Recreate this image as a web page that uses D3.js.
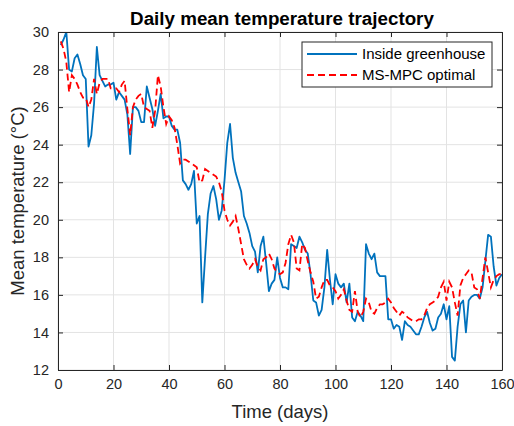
<!DOCTYPE html>
<html>
<head>
<meta charset="utf-8">
<script src="https://cdn.jsdelivr.net/npm/d3@7"></script>
<style>
  html, body { margin: 0; padding: 0; background: #fff; }
  svg { display: block; font-family: "Liberation Sans", Arial, Helvetica, sans-serif; }
</style>
</head>
<body>
<svg id="chart" width="514" height="426"></svg>
<script>
// Daily mean temperature (°C), days 1..160
const days = d3.range(1, 161);

const insideGreenhouse = [
  29.3, 29.6, 30.0, 28.0, 27.9, 28.6, 28.8, 28.3, 27.7, 27.5,
  23.9, 24.5, 26.2, 29.2, 27.7, 27.4, 27.1, 27.2, 27.2, 27.3,
  26.4, 26.8, 26.6, 26.4, 25.6, 23.5, 26.0, 26.0, 25.8, 25.2,
  25.2, 27.1, 26.5, 25.9, 25.0, 25.8, 26.7, 25.4, 25.5, 25.5,
  25.0, 24.8, 24.8, 24.1, 22.1, 21.9, 21.6, 21.9, 22.6, 19.8,
  20.2, 15.6, 18.0, 20.3, 21.4, 21.8, 21.1, 20.0, 20.5, 22.1,
  24.1, 25.1, 23.3, 22.5, 22.0, 21.5, 20.2, 19.8, 19.3, 18.6,
  18.3, 17.2, 18.6, 19.1, 17.7, 16.2, 16.6, 16.8, 18.0, 16.9,
  16.4, 16.4, 16.3, 18.7, 18.6, 18.5, 19.1, 18.8, 18.4, 18.2,
  17.1, 15.7, 15.6, 14.9, 15.2, 16.4, 18.4, 16.8, 15.5, 17.1,
  16.6, 16.4, 16.6, 15.6, 16.6, 14.8, 14.6, 15.1, 14.9, 14.6,
  18.7, 18.2, 17.9, 18.2, 17.2, 17.0, 17.0, 17.0, 14.7, 14.7,
  14.2, 14.4, 14.3, 13.6, 14.6, 14.4, 14.3, 14.1, 13.9, 13.9,
  14.3, 14.8, 15.1, 14.5, 14.1, 14.2, 14.8, 15.0, 15.5, 14.7,
  15.4, 12.7, 12.5, 14.3, 15.5, 15.7, 14.0, 15.7, 15.9, 16.0,
  16.0, 15.8, 16.4, 17.8, 19.2, 19.1, 17.5, 16.5, 16.9, 17.1
];

const msmpcOptimal = [
  29.5, 29.1, 28.4, 26.8, 27.7, 27.5, 27.2, 26.8, 26.5, 26.5,
  26.0, 26.4, 27.5, 26.7, 27.3, 27.5, 27.5, 27.5, 27.0, 27.0,
  27.0, 26.8, 27.2, 27.4, 25.9, 24.5, 26.0, 26.4, 26.6, 26.7,
  26.0, 25.9, 25.8, 24.9, 25.8, 27.7, 27.1, 26.0, 25.1, 25.5,
  25.3, 24.9, 24.0, 23.0, 23.2, 23.2, 23.1, 23.0, 22.9, 22.8,
  22.0, 22.1, 22.7, 22.6, 22.5, 22.4, 22.3, 22.0, 21.5, 20.5,
  20.0, 19.7, 19.9, 20.2, 19.5, 18.7, 17.9, 17.6, 17.4, 17.6,
  17.9, 17.5, 17.3, 17.9, 18.0, 18.2, 17.9, 17.4, 17.2, 17.1,
  17.2, 17.7, 18.7, 19.2, 18.8, 17.4, 17.3, 18.7, 18.5, 17.8,
  17.2, 16.7, 15.8, 15.9, 16.4, 16.8, 16.8, 16.5, 16.4, 16.2,
  15.8, 16.0, 16.3, 15.7, 15.2, 15.1, 16.2, 15.1, 14.8, 15.1,
  15.8, 15.6, 15.1, 15.0, 15.3, 15.5, 15.5, 15.6, 15.8, 15.6,
  15.3, 15.1, 14.9, 15.1, 15.0, 14.8, 14.7, 14.6, 14.6, 14.7,
  14.7, 14.9, 15.3, 15.5, 15.6, 15.7, 15.9, 16.4, 16.7, 15.7,
  16.7, 16.4, 15.6, 14.9, 16.5, 16.9, 17.1, 17.3, 17.2, 16.4,
  16.3, 15.8, 16.9, 18.0, 17.2, 16.4, 16.8, 17.0, 17.1, 17.1
];

const xTicks = [0, 20, 40, 60, 80, 100, 120, 140, 160];
const yTicks = [12, 14, 16, 18, 20, 22, 24, 26, 28, 30];
const seriesNames = ["Inside greenhouse", "MS-MPC optimal"];

const margin = { left: 58, right: 12, top: 32, bottom: 56 };
const W = 514, H = 426;
const iw = W - margin.left - margin.right;
const ih = H - margin.top - margin.bottom;

const svg = d3.select("#chart");
const textColor = "#262626";

const x = d3.scaleLinear().domain([0, 160]).range([0, iw]);
const y = d3.scaleLinear().domain([12, 30]).range([ih, 0]);

const g = svg.append("g").attr("transform", `translate(${margin.left},${margin.top})`);

// grid
g.append("g").selectAll("line").data(xTicks).join("line")
  .attr("x1", d => x(d)).attr("x2", d => x(d))
  .attr("y1", 0).attr("y2", ih)
  .attr("stroke", "#e3e3e3").attr("stroke-width", 1);
g.append("g").selectAll("line").data(yTicks).join("line")
  .attr("x1", 0).attr("x2", iw)
  .attr("y1", d => y(d)).attr("y2", d => y(d))
  .attr("stroke", "#e3e3e3").attr("stroke-width", 1);

// clip region for the data lines
svg.append("defs").append("clipPath").attr("id", "plotClip")
  .append("rect").attr("x", 0).attr("y", 0).attr("width", iw).attr("height", ih);

const line = d3.line().x((d, i) => x(days[i])).y(d => y(d));

const plot = g.append("g").attr("clip-path", "url(#plotClip)");
plot.append("path").datum(insideGreenhouse)
  .attr("d", line).attr("fill", "none")
  .attr("stroke", "#0072BD").attr("stroke-width", 1.8)
  .attr("stroke-linejoin", "round");
plot.append("path").datum(msmpcOptimal)
  .attr("d", line).attr("fill", "none")
  .attr("stroke", "#FF0000").attr("stroke-width", 1.8)
  .attr("stroke-dasharray", "7,4");

// axes with inward ticks on all four sides
const tickLen = 5;
const axBottom = d3.axisBottom(x).tickValues(xTicks).tickSizeInner(-tickLen).tickSizeOuter(0).tickPadding(9);
const axTop = d3.axisTop(x).tickValues(xTicks).tickSizeInner(-tickLen).tickSizeOuter(0).tickFormat("");
const axLeft = d3.axisLeft(y).tickValues(yTicks).tickSizeInner(-tickLen).tickSizeOuter(0).tickPadding(9);
const axRight = d3.axisRight(y).tickValues(yTicks).tickSizeInner(-tickLen).tickSizeOuter(0).tickFormat("");

function styleAxis(sel) {
  sel.selectAll("path").attr("stroke", textColor).attr("stroke-width", 1);
  sel.selectAll("line").attr("stroke", textColor).attr("stroke-width", 1);
  sel.selectAll("text").attr("fill", textColor).style("font-size", "14.5px")
    .style("font-family", "'Liberation Sans', Arial, sans-serif");
}
g.append("g").attr("transform", `translate(0,${ih})`).call(axBottom).call(styleAxis);
g.append("g").call(axTop).call(styleAxis);
g.append("g").call(axLeft).call(styleAxis);
g.append("g").attr("transform", `translate(${iw},0)`).call(axRight).call(styleAxis);

// title and axis labels
svg.append("text")
  .attr("x", margin.left + iw / 2 + 2).attr("y", 24.5)
  .attr("text-anchor", "middle").attr("fill", "#000")
  .style("font-size", "18.8px").style("font-weight", "bold")
  .text("Daily mean temperature trajectory");

svg.append("text")
  .attr("x", margin.left + iw / 2).attr("y", 418)
  .attr("text-anchor", "middle").attr("fill", textColor)
  .style("font-size", "18.5px")
  .text("Time (days)");

svg.append("text")
  .attr("transform", `translate(24,${margin.top + ih / 2}) rotate(-90)`)
  .attr("text-anchor", "middle").attr("fill", textColor)
  .style("font-size", "18.5px")
  .text("Mean temperature (°C)");

// legend
const legend = svg.append("g").attr("transform", "translate(302,42)");
legend.append("rect")
  .attr("width", 190).attr("height", 45)
  .attr("fill", "#fff").attr("stroke", textColor).attr("stroke-width", 1);
const legendStyles = [
  { color: "#0072BD", dash: null },
  { color: "#FF0000", dash: "7,4" }
];
seriesNames.forEach((name, i) => {
  const ly = 12 + i * 21;
  legend.append("line")
    .attr("x1", 5).attr("x2", 55).attr("y1", ly).attr("y2", ly)
    .attr("stroke", legendStyles[i].color).attr("stroke-width", 1.8)
    .attr("stroke-dasharray", legendStyles[i].dash);
  legend.append("text")
    .attr("x", 60).attr("y", ly + 5)
    .attr("fill", "#000").style("font-size", "15px")
    .text(name);
});
</script>
</body>
</html>
